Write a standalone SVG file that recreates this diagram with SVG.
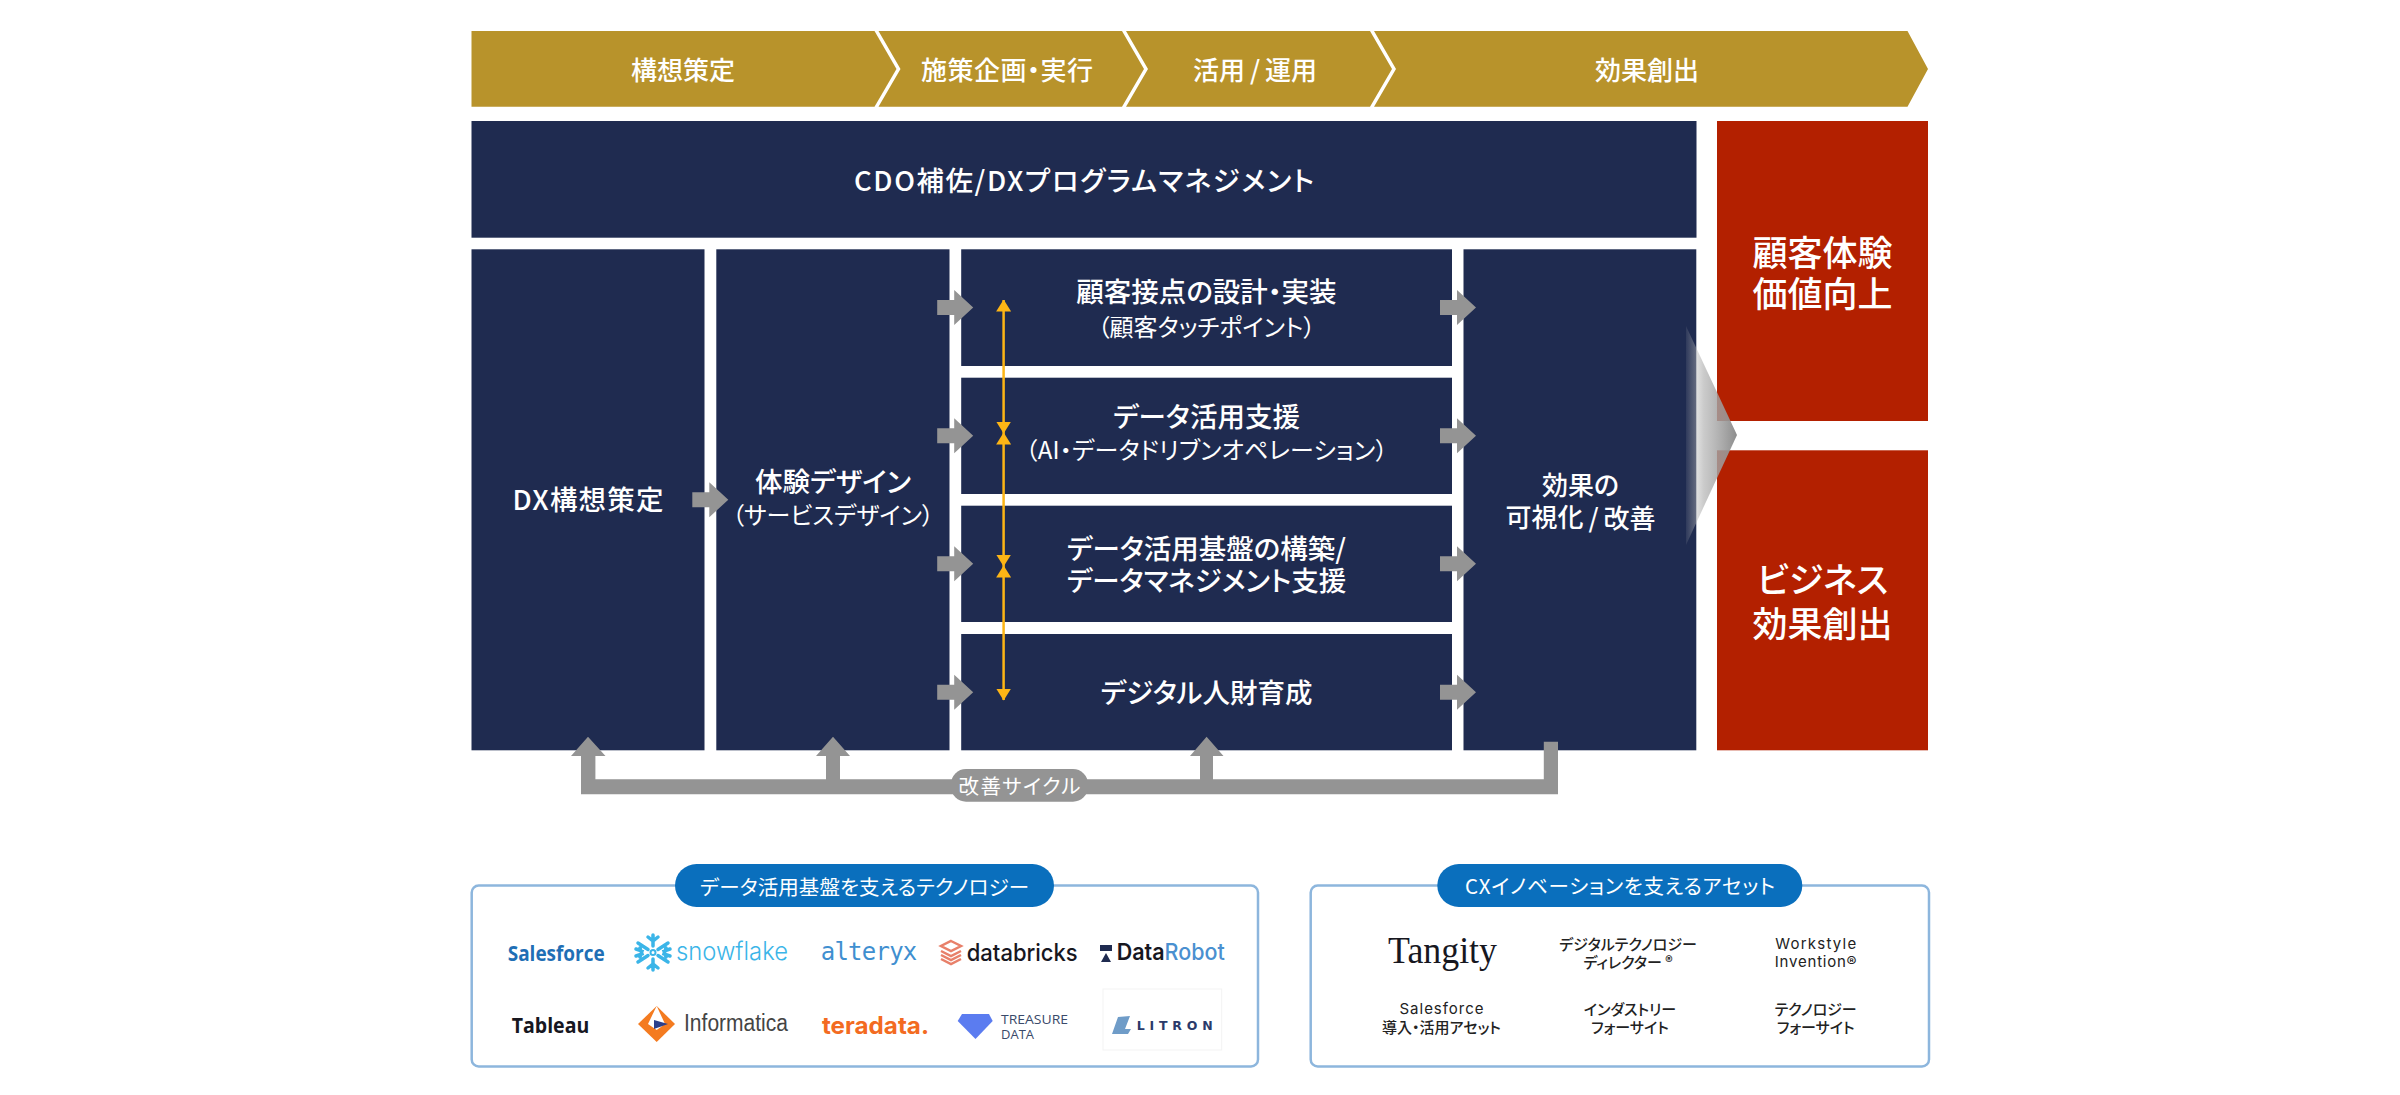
<svg xmlns="http://www.w3.org/2000/svg" width="2400" height="1095" viewBox="0 0 2400 1095">
<style>
text{font-family:"Noto Sans CJK JP","Noto Sans",sans-serif;font-feature-settings:"palt";text-anchor:middle;dominant-baseline:central;fill:#fff;font-weight:500}
.navy{fill:#1f2b50}.red{fill:#b32000}.gold{fill:#b8932b}
.t26{font-size:26px}.t27{font-size:27.5px}.t23{font-size:24px;font-weight:400}.t34{font-size:35px}.t21{font-size:20.5px;font-weight:400}
.asset{font-size:15px;fill:#222;font-weight:500}
.lat{font-family:Inter,"Noto Sans CJK JP",sans-serif;font-weight:400}
.logo{font-family:"Open Sans","Noto Sans",sans-serif;text-anchor:start}
.panel{fill:#fff;stroke:#8db6dd;stroke-width:2.500}
.pill{fill:#0a6fbd}
.grey{fill:#949494}
.yl{stroke:#fdb515;stroke-width:2.500;fill:none}
</style>
<defs>
<path id="arrowR" class="grey" d="M0-7.500H17V-17.500L36 0 17 17.500V7.500H0Z"/>
<marker id="ya" markerUnits="userSpaceOnUse" viewBox="0 0 12 15" refX="11.500" refY="7.500" markerWidth="12" markerHeight="15" orient="auto-start-reverse"><path d="M0 0L12 7.500 0 15Z" fill="#fdb515"/></marker>
<linearGradient id="fade" gradientUnits="userSpaceOnUse" x1="1686" y1="0" x2="1737" y2="0"><stop offset="0" stop-color="#c4c4c4" stop-opacity=".1"/><stop offset=".35" stop-color="#b4b4b4" stop-opacity=".7"/><stop offset="1" stop-color="#8c8c8c"/></linearGradient>
</defs>
<g id="phases">
<path class="gold" d="M471.500 31H874.500L896.500 69 874.500 106.700H471.500Z"/>
<path class="gold" d="M878.500 31H1122L1144 69 1122 106.700H878.500L900.500 69Z"/>
<path class="gold" d="M1126 31H1370L1392 69 1370 106.700H1126L1148 69Z"/>
<path class="gold" d="M1374 31H1907.500L1928 69 1907.500 106.700H1374L1396 69Z"/>
<text class="t26" x="683" y="68">構想策定</text>
<text class="t26" x="1007" y="68" textLength="172">施策企画・実行</text>
<text class="t26" x="1255" y="68">活用<tspan dx="5">/</tspan><tspan dx="5">運用</tspan></text>
<text class="t26" x="1647" y="68">効果創出</text>
</g>
<g id="node-cdo"><rect class="navy" x="471.500" y="121" width="1225" height="116.700"/><text class="t27" x="1084" y="178.500" textLength="460">CDO補佐/DXプログラムマネジメント</text></g>
<g id="node-dx"><rect class="navy" x="471.500" y="249.300" width="233" height="501"/><text class="t27" x="588" y="498" textLength="151">DX構想策定</text></g>
<g id="node-design"><rect class="navy" x="716.300" y="249.300" width="233.200" height="501"/><text class="t27" x="833" y="480">体験デザイン</text><text class="t23" x="833" y="513">（サービスデザイン）</text></g>
<g id="node-touch"><rect class="navy" x="961.200" y="249.300" width="490.800" height="116.700"/><text class="t27" x="1206.500" y="289.500">顧客接点の設計・実装</text><text class="t23" x="1206.500" y="325.500">（顧客タッチポイント）</text></g>
<g id="node-data"><rect class="navy" x="961.200" y="377.700" width="490.800" height="116.300"/><text class="t27" x="1206.500" y="415">データ活用支援</text><text class="t23" x="1206.500" y="448.500" textLength="362">（AI・データドリブンオペレーション）</text></g>
<g id="node-platform"><rect class="navy" x="961.200" y="505.700" width="490.800" height="116.300"/><text class="t27" x="1206.500" y="546.500">データ活用基盤の構築/</text><text class="t27" x="1206.500" y="578.500">データマネジメント支援</text></g>
<g id="node-talent"><rect class="navy" x="961.200" y="634" width="490.800" height="116.300"/><text class="t27" x="1206.500" y="691">デジタル人財育成</text></g>
<g id="node-effect"><rect class="navy" x="1463.500" y="249.300" width="232.800" height="501"/><text class="t26" x="1580.500" y="483.500">効果の</text><text class="t26" x="1580.500" y="515.500">可視化<tspan dx="5">/</tspan><tspan dx="5">改善</tspan></text></g>
<g id="node-cx"><rect class="red" x="1717" y="121" width="211" height="300"/><text class="t34" x="1822.500" y="250">顧客体験</text><text class="t34" x="1822.500" y="291.500">価値向上</text></g>
<g id="node-biz"><rect class="red" x="1717" y="450.300" width="211" height="300"/><text class="t34" x="1822.500" y="577">ビジネス</text><text class="t34" x="1822.500" y="621">効果創出</text></g>
<g id="connectors">
<use href="#arrowR" x="692.300" y="499.700"/>
<use href="#arrowR" x="937.200" y="307.500"/><use href="#arrowR" x="937.200" y="435.700"/><use href="#arrowR" x="937.200" y="563.700"/><use href="#arrowR" x="937.200" y="692.300"/>
<use href="#arrowR" x="1440" y="307.500"/><use href="#arrowR" x="1440" y="435.700"/><use href="#arrowR" x="1440" y="563.700"/><use href="#arrowR" x="1440" y="692.300"/>
<path class="yl" d="M1003.600 300V433" marker-start="url(#ya)" marker-end="url(#ya)"/>
<path class="yl" d="M1003.600 433V566" marker-start="url(#ya)" marker-end="url(#ya)"/>
<path class="yl" d="M1003.600 566V700" marker-start="url(#ya)" marker-end="url(#ya)"/>
<path class="grey" d="M1543.800 741.700H1558V794.300H581V756H571L588 736.700 605.500 756H595.400V779.300H826V756H816L833 736.700 850 756H840V779.300H1200V756H1190L1206.600 736.700 1223.500 756H1213V779.300H1543.800Z"/>
<path d="M1686 326L1737 435 1686 545Z" fill="url(#fade)"/>
</g>
<g id="label-cycle"><rect class="grey" x="951" y="769" width="137" height="32.700" rx="15"/><text class="t21" x="1019.500" y="784.500" textLength="122">改善サイクル</text></g>
<g id="panel-tech">
<rect class="panel" x="471.700" y="885.500" width="786.300" height="181" rx="7"/>
<rect class="pill" x="675" y="864" width="379" height="43" rx="21.500"/>
<text class="t21" x="864.500" y="886" textLength="329">データ活用基盤を支えるテクノロジー</text>
<text class="logo" x="507.700" y="953" textLength="97" lengthAdjust="spacingAndGlyphs" style="font-size:21px;font-weight:700;fill:#1f6fb5">Salesforce</text>
<g stroke="#3bb5e8" stroke-width="3.500" stroke-linecap="round" fill="none"><path d="M653 935V946M638 943L648 949.500M638 962L648 955.500M653 970V959M668 962L658 955.500M668 943L658 949.500M648 937L653 941 658 937M648 968L653 964 658 968M636 949L642 951 640 957M670 949L664 951 666 957M636 956L642 954 640 948M670 956L664 954 666 948"/><circle cx="653" cy="952.500" r="2.500" stroke-width="2"/></g>
<text class="logo" x="676" y="951" textLength="112" lengthAdjust="spacingAndGlyphs" style="font-family:Inter,sans-serif;font-size:25px;font-weight:300;fill:#3bb5e8">snowflake</text>
<text class="logo" x="820.700" y="952" textLength="96.600" style="font-family:'DejaVu Sans Mono',monospace;font-size:24px;font-weight:400;fill:#3f8fd0">alteryx</text>
<path d="M951 941L961 946 951 951 941 946ZM941 951L951 956 961 951M941 955L951 960 961 955M941 959L951 964 961 959" fill="#fff" stroke="#e8806a" stroke-width="2.500"/>
<text class="logo" x="966.700" y="952" textLength="111" lengthAdjust="spacingAndGlyphs" style="font-family:Inter,sans-serif;font-size:24px;font-weight:500;fill:#17171f">databricks</text>
<path d="M1100 945H1112V951H1100ZM1106 953L1111 962H1101Z" fill="#1f2b50"/>
<text class="logo" x="1116.700" y="952" textLength="108" lengthAdjust="spacingAndGlyphs" style="font-family:Inter,sans-serif;font-size:23px;font-weight:500"><tspan fill="#17171f" font-weight="600">Data</tspan><tspan fill="#4a90d0">Robot</tspan></text>
<text class="logo" x="511.700" y="1025" textLength="77.600" lengthAdjust="spacingAndGlyphs" style="font-size:21px;font-weight:700;fill:#17171f">Tableau</text>
<path d="M656.700 1006L675 1024 656.700 1042 638 1024Z" fill="#f47b20"/><path d="M656.700 1006L665 1024 656.700 1030 648 1024Z" fill="#fff"/><path d="M654 1020L668 1024 654 1029Z" fill="#2b3f8c"/>
<text class="logo" x="684" y="1022.700" textLength="104" lengthAdjust="spacingAndGlyphs" style="font-family:'Liberation Sans',sans-serif;font-size:23px;font-weight:400;fill:#444">Informatica</text>
<text class="logo" x="822" y="1025" textLength="107" lengthAdjust="spacingAndGlyphs" style="font-family:Inter,sans-serif;font-size:24px;font-weight:700;fill:#f36b21">teradata.</text>
<path d="M962 1014H989L992.700 1021 975.500 1039 957.700 1021Z" fill="#5b7cf0"/>
<text class="logo" x="1001" y="1019" textLength="67" lengthAdjust="spacingAndGlyphs" style="font-size:13px;fill:#3a4a6a">TREASURE</text>
<text class="logo" x="1001" y="1034" textLength="33" lengthAdjust="spacingAndGlyphs" style="font-size:13px;fill:#3a4a6a">DATA</text>
<rect x="1103" y="989" width="118.700" height="61" fill="none" stroke="#f3f3f3"/>
<path d="M1112 1034L1118 1017 1130 1016 1125 1029H1131L1128 1034Z" fill="#6f9cc8"/>
<text class="logo" x="1136.700" y="1025.700" textLength="76" style="font-family:'DejaVu Sans',sans-serif;font-size:12.500px;font-weight:700;fill:#2b3a6a">LITRON</text>
</g>
<g id="panel-assets">
<rect class="panel" x="1310.700" y="885.500" width="618.300" height="181" rx="7"/>
<rect class="pill" x="1437.300" y="864" width="365" height="43" rx="21.500"/>
<text class="t21" x="1620" y="885" textLength="310">CXイノベーションを支えるアセット</text>
<text x="1442.500" y="950" textLength="109" lengthAdjust="spacingAndGlyphs" style="font-family:'Liberation Serif',serif;font-size:37px;font-weight:400;fill:#17171f">Tangity</text>
<text class="asset" x="1628" y="943">デジタルテクノロジー</text><text class="asset" x="1628" y="961">ディレクター ®</text>
<text class="asset lat" x="1815.700" y="943" textLength="81">Workstyle</text><text class="asset lat" x="1815.700" y="961" textLength="82">Invention®</text>
<text class="asset lat" x="1441.500" y="1008.500" textLength="84">Salesforce</text><text class="asset" x="1441.500" y="1026.500">導入・活用アセット</text>
<text class="asset" x="1630" y="1008.500">インダストリー</text><text class="asset" x="1630" y="1026.500">フォーサイト</text>
<text class="asset" x="1815.700" y="1008.500">テクノロジー</text><text class="asset" x="1815.700" y="1026.500">フォーサイト</text>
</g>
</svg>
